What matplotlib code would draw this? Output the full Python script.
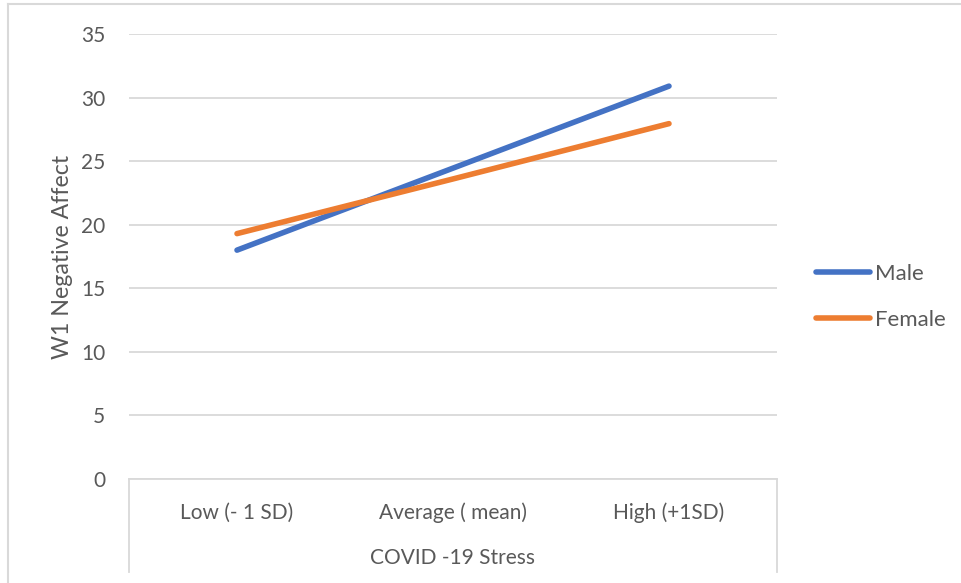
import matplotlib
matplotlib.use("Agg")
import matplotlib.pyplot as plt
from matplotlib.lines import Line2D

# Data
categories = ["Low (- 1 SD)", "Average ( mean)", "High (+1SD)"]
male = [18.0, 24.45, 30.9]
female = [19.3, 23.6, 27.95]
y_ticks = [0, 5, 10, 15, 20, 25, 30, 35]

W, H = 961, 583
text_color = "#595959"
grid_color = "#D9D9D9"
plt.rcParams["font.family"] = ["Lato", "DejaVu Sans"]

fig = plt.figure(figsize=(W / 100, H / 100), dpi=100)
left, right, top, bottom = 129, 777, 34, 479
ax = fig.add_axes([left / W, 1 - bottom / H, (right - left) / W, (bottom - top) / H])

x = list(range(len(categories)))
ax.plot(x, male, color="#4472C4", lw=4, solid_capstyle="round", label="Male", zorder=3)
ax.plot(x, female, color="#ED7D31", lw=4, solid_capstyle="round", label="Female", zorder=3)

ax.set_xlim(-0.5, len(categories) - 0.5)
ax.set_ylim(0, 35)
ax.set_yticks(y_ticks)
ax.set_xticks(x)
ax.set_xticklabels(categories)
ax.yaxis.grid(True, color=grid_color, lw=1.3)
ax.set_axisbelow(True)
for s in ["top", "right", "left"]:
    ax.spines[s].set_visible(False)
ax.spines["bottom"].set_color(grid_color)
ax.spines["bottom"].set_linewidth(1.3)
ax.tick_params(axis="both", length=0, labelsize=15, colors=text_color)
ax.tick_params(axis="y", pad=17)
ax.tick_params(axis="x", pad=17)

# category axis outer boundary lines
depth = (572 - bottom) / (bottom - top)
for xe in (0, 1):
    ax.plot([xe, xe], [0, -depth], transform=ax.transAxes, color=grid_color,
            lw=1.3, clip_on=False)

ax.set_xlabel("COVID -19 Stress", fontsize=15, color=text_color, labelpad=18)
ax.set_ylabel("W1 Negative Affect", fontsize=16.7, color=text_color, labelpad=6)

leg = ax.legend(loc="center left", bbox_to_anchor=(816 / W, 1 - 297 / H),
                bbox_transform=fig.transFigure, frameon=False, fontsize=16,
                handlelength=2.45, handletextpad=0.2, labelspacing=1.15,
                borderaxespad=0, borderpad=0)
for t in leg.get_texts():
    t.set_color(text_color)

# chart area border
fig.add_artist(Line2D([8 / W, 8 / W], [0, 1 - 4 / H], color=grid_color, lw=1.5,
                      transform=fig.transFigure))
fig.add_artist(Line2D([8 / W, 1], [1 - 4 / H, 1 - 4 / H], color=grid_color, lw=1.5,
                      transform=fig.transFigure))

fig.savefig("out.png", dpi=100)
